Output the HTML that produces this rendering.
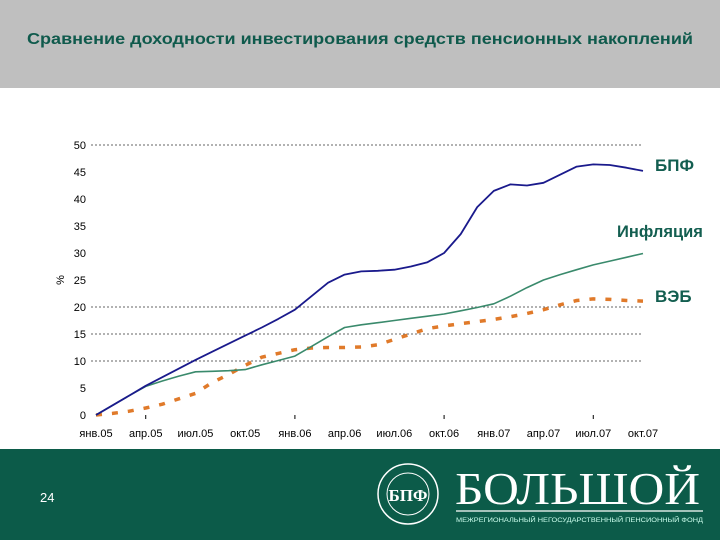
<!DOCTYPE html>
<html><head><meta charset="utf-8"><style>
body{margin:0;width:720px;height:540px;overflow:hidden;background:#fff;font-family:"Liberation Sans",sans-serif;position:relative}
#hdr{position:absolute;left:0;top:0;width:720px;height:88px;background:#bfbfbf}
#ftr{position:absolute;left:0;top:449px;width:720px;height:91px;background:#0c5b49}
svg{position:absolute;left:0;top:0}
</style></head><body>
<div id="hdr"></div>
<div id="ftr"></div>
<svg id="chart" width="720" height="540"></svg>
<script>
const months=34;
const xLabels=["янв.05","апр.05","июл.05","окт.05","янв.06","апр.06","июл.06","окт.06","янв.07","апр.07","июл.07","окт.07"];
const yTicks=[0,5,10,15,20,25,30,35,40,45,50];
const gridVals=[10,15,20,50];
const bpf=[0,1.8,3.6,5.4,7.0,8.6,10.2,11.7,13.2,14.7,16.2,17.8,19.5,22,24.5,26,26.6,26.7,26.9,27.5,28.3,30,33.5,38.5,41.5,42.7,42.5,43,44.5,46,46.4,46.3,45.8,45.2];
const infl=[0,1.8,3.6,5.3,6.3,7.2,8.0,8.1,8.2,8.4,9.3,10.1,10.9,12.7,14.5,16.2,16.7,17.1,17.5,17.9,18.3,18.7,19.3,19.9,20.6,22,23.6,25,26,26.9,27.8,28.5,29.2,29.9];
const veb=[0,0.3,0.7,1.3,2,3,4,6,7.5,9.2,10.7,11.4,12.1,12.4,12.5,12.5,12.6,13,14,15,16,16.5,16.9,17.3,17.7,18.2,18.8,19.5,20.4,21.2,21.5,21.4,21.2,21.1];
const X=i=>96+i*(547/(months-1));
const Y=v=>415-v*5.4;
const svg=document.getElementById('chart');const NS='http://www.w3.org/2000/svg';
function mk(t,a,txt){const e=document.createElementNS(NS,t);for(const k in a)e.setAttribute(k,a[k]);if(txt!==undefined)e.textContent=txt;svg.appendChild(e);return e;}
const tt=mk('text',{x:27,y:44,'font-size':16,'font-weight':'bold',fill:'#0f5a4c',textLength:666,lengthAdjust:'spacingAndGlyphs'},'Сравнение доходности инвестирования средств пенсионных накоплений');


gridVals.forEach(v=>{const e=mk('line',{x1:91,x2:643,y1:Y(v),y2:Y(v),stroke:'#333','stroke-width':0.8,'stroke-dasharray':'2,2'});

});
yTicks.forEach(v=>{const e=mk('text',{x:86,y:Y(v)+4,'text-anchor':'end','font-size':11,fill:'#000'},v);

});
xLabels.forEach((l,i)=>{const e=mk('text',{x:X(i*3),y:437,'text-anchor':'middle','font-size':11,fill:'#000'},l);

});
[3,12,21,30].forEach(i=>{const e=mk('line',{x1:X(i),x2:X(i),y1:415,y2:419,stroke:'#000','stroke-width':1});

});
const yt=mk('text',{x:0,y:0,'font-size':11,transform:'translate(64,280) rotate(-90)','text-anchor':'middle'},'%');


function line(d,attrs,name){const p=d.map((v,i)=>(i?'L':'M')+X(i).toFixed(1)+','+Y(v).toFixed(1)).join('');const e=mk('path',Object.assign({d:p,fill:'none','stroke-linejoin':'round'},attrs));

}
line(veb,{stroke:'#e07a2a','stroke-width':3.5,'stroke-dasharray':'6,10'},'series-veb');
line(infl,{stroke:'#3a8a6c','stroke-width':1.6},'series-inflation');
line(bpf,{stroke:'#1a1a8c','stroke-width':1.8},'series-bpf');
[['БПФ',655,171,17],['Инфляция',617,237,16.5],['ВЭБ',655,302,17]].forEach(a=>{const e=mk('text',{x:a[1],y:a[2],'font-size':a[3],'font-weight':'bold',fill:'#135e50'},a[0]);

});
const pn=mk('text',{x:40,y:502,'font-size':13,fill:'#fff'},'24');


const c1=mk('circle',{cx:408,cy:494,r:30,fill:'none',stroke:'#fff','stroke-width':1.5});


mk('circle',{cx:408,cy:494,r:21,fill:'none',stroke:'#fff','stroke-width':1});
mk('text',{x:408,y:501,'font-size':17,'font-weight':'bold','text-anchor':'middle',fill:'#fff','font-family':'Liberation Serif'},'БПФ');
const br=mk('text',{x:455,y:504,'font-size':46,fill:'#fff','font-family':'Liberation Serif',textLength:245,lengthAdjust:'spacingAndGlyphs'},'БОЛЬШОЙ');


mk('line',{x1:456,x2:703,y1:511,y2:511,stroke:'#fff','stroke-width':1.2});
mk('text',{x:456,y:522,'font-size':6,fill:'#cfe','textLength':247,lengthAdjust:'spacingAndGlyphs'},'МЕЖРЕГИОНАЛЬНЫЙ НЕГОСУДАРСТВЕННЫЙ ПЕНСИОННЫЙ ФОНД');
</script>
</body></html>
